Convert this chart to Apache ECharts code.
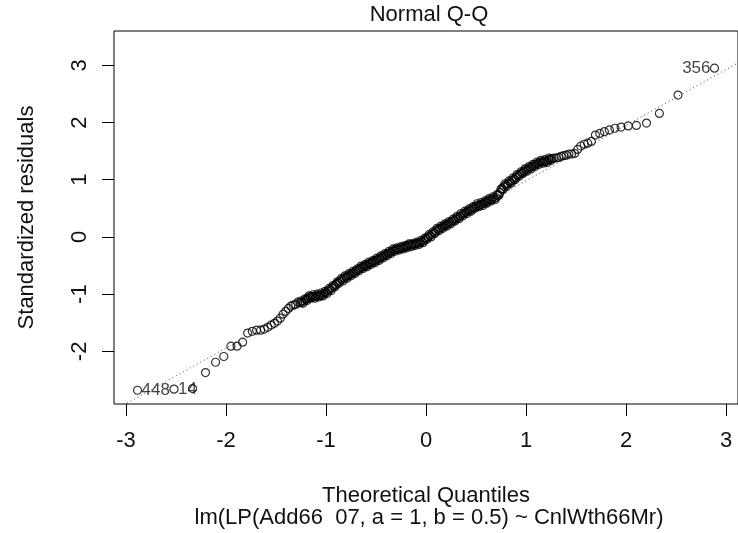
<!DOCTYPE html>
<html>
<head>
<meta charset="utf-8">
<script src="https://cdn.jsdelivr.net/npm/echarts@6/dist/echarts.min.js"></script>
<style>html,body{margin:0;padding:0;background:#fff}#c{width:738px;height:533px}</style>
</head>
<body>
<div id="c"></div>
<script>
// ---- data ----
var xTicks = [-3, -2, -1, 0, 1, 2, 3];
var yTicks = [-2, -1, 0, 1, 2, 3];

// lowest points (theoretical quantile, standardized residual)
var qqLowerTail = [
  [-2.885,-2.68],[-2.52,-2.66],[-2.334,-2.65],[-2.205,-2.37],[-2.104,-2.19],[-2.022,-2.09],
  [-1.951,-1.91],[-1.889,-1.91],[-1.834,-1.84],[-1.784,-1.68],[-1.737,-1.65],[-1.694,-1.63],
  [-1.654,-1.63],[-1.617,-1.61],[-1.582,-1.58],[-1.548,-1.54],[-1.516,-1.51],[-1.486,-1.47],
  [-1.457,-1.42],[-1.429,-1.35],[-1.403,-1.30],[-1.377,-1.25],[-1.352,-1.21],[-1.328,-1.19],
  [-1.304,-1.18],[-1.282,-1.14]
];

// dense central band (centre line)
var qqBody = [
  [-1.26,-1.15],[-1.24,-1.14],[-1.22,-1.12],[-1.20,-1.09],[-1.18,-1.07],[-1.16,-1.05],
  [-1.14,-1.04],[-1.12,-1.04],[-1.10,-1.04],[-1.08,-1.03],[-1.06,-1.02],[-1.04,-1.01],
  [-1.02,-0.99],[-1.00,-0.97],[-0.98,-0.94],[-0.96,-0.92],[-0.94,-0.89],[-0.92,-0.86],
  [-0.90,-0.83],[-0.88,-0.80],[-0.86,-0.77],[-0.84,-0.75],[-0.82,-0.72],[-0.80,-0.70],
  [-0.78,-0.68],[-0.76,-0.66],[-0.74,-0.64],[-0.72,-0.62],[-0.70,-0.60],[-0.68,-0.57],
  [-0.66,-0.55],[-0.64,-0.53],[-0.62,-0.51],[-0.60,-0.50],[-0.58,-0.48],[-0.56,-0.46],
  [-0.54,-0.44],[-0.52,-0.43],[-0.50,-0.41],[-0.48,-0.39],[-0.46,-0.37],[-0.44,-0.35],
  [-0.42,-0.33],[-0.40,-0.31],[-0.38,-0.29],[-0.36,-0.27],[-0.34,-0.25],[-0.32,-0.23],
  [-0.30,-0.22],[-0.28,-0.21],[-0.26,-0.20],[-0.24,-0.19],[-0.22,-0.18],[-0.20,-0.17],
  [-0.18,-0.15],[-0.16,-0.14],[-0.14,-0.14],[-0.12,-0.13],[-0.10,-0.12],[-0.08,-0.11],
  [-0.06,-0.10],[-0.04,-0.08],[-0.02,-0.06],[0.00,-0.03],[0.02,0.00],[0.04,0.02],
  [0.06,0.05],[0.08,0.07],[0.10,0.11],[0.12,0.13],[0.14,0.15],[0.16,0.17],
  [0.18,0.19],[0.20,0.21],[0.22,0.23],[0.24,0.25],[0.26,0.27],[0.28,0.29],
  [0.30,0.32],[0.32,0.34],[0.34,0.36],[0.36,0.39],[0.38,0.41],[0.40,0.43],
  [0.42,0.45],[0.44,0.47],[0.46,0.49],[0.48,0.51],[0.50,0.54],[0.52,0.55],
  [0.54,0.56],[0.56,0.57],[0.58,0.59],[0.60,0.61],[0.62,0.63],[0.64,0.65],
  [0.66,0.66],[0.68,0.67],[0.70,0.69],[0.72,0.73],[0.74,0.78],[0.76,0.84],
  [0.78,0.88],[0.80,0.91],[0.82,0.93],[0.84,0.96],[0.86,0.98],[0.88,1.01],
  [0.90,1.04],[0.92,1.07],[0.94,1.10],[0.96,1.12],[0.98,1.15],[1.00,1.17],
  [1.02,1.19],[1.04,1.21],[1.06,1.23],[1.08,1.25],[1.10,1.27],[1.12,1.29],
  [1.14,1.31],[1.16,1.31],[1.18,1.32],[1.20,1.32],[1.22,1.34],[1.24,1.36],
  [1.26,1.37]
];

// further points inside the central band (its scatter above / below the centre line)
var qqBodyScatter = [
  [-1.25,-1.12],[-1.23,-1.16],[-1.21,-1.08],[-1.19,-1.11],[-1.17,-1.03],[-1.15,-1.07],
  [-1.13,-1.01],[-1.11,-1.07],[-1.09,-1.00],[-1.07,-1.05],[-1.05,-0.98],[-1.03,-1.03],
  [-1.01,-0.95],[-0.99,-0.99],[-0.97,-0.90],[-0.95,-0.94],[-0.93,-0.85],[-0.91,-0.87],
  [-0.89,-0.79],[-0.87,-0.81],[-0.85,-0.73],[-0.83,-0.77],[-0.81,-0.68],[-0.79,-0.72],
  [-0.77,-0.64],[-0.75,-0.68],[-0.73,-0.60],[-0.71,-0.64],[-0.69,-0.56],[-0.67,-0.59],
  [-0.65,-0.51],[-0.63,-0.55],[-0.61,-0.48],[-0.59,-0.52],[-0.57,-0.44],[-0.55,-0.48],
  [-0.53,-0.41],[-0.51,-0.45],[-0.49,-0.37],[-0.47,-0.41],[-0.45,-0.33],[-0.43,-0.37],
  [-0.41,-0.29],[-0.39,-0.33],[-0.37,-0.25],[-0.35,-0.29],[-0.33,-0.21],[-0.31,-0.25],
  [-0.29,-0.19],[-0.27,-0.23],[-0.25,-0.17],[-0.23,-0.21],[-0.21,-0.15],[-0.19,-0.19],
  [-0.17,-0.12],[-0.15,-0.17],[-0.13,-0.11],[-0.11,-0.15],[-0.09,-0.09],[-0.07,-0.13],
  [-0.05,-0.06],[-0.03,-0.10],[-0.01,-0.02],[0.01,-0.04],[0.03,0.04],[0.05,0.00],
  [0.07,0.09],[0.09,0.06],[0.11,0.15],[0.13,0.11],[0.15,0.19],[0.17,0.15],
  [0.19,0.23],[0.21,0.19],[0.23,0.27],[0.25,0.23],[0.27,0.31],[0.29,0.28],
  [0.31,0.36],[0.33,0.32],[0.35,0.41],[0.37,0.37],[0.39,0.45],[0.41,0.41],
  [0.43,0.49],[0.45,0.45],[0.47,0.53],[0.49,0.50],[0.51,0.58],[0.53,0.53],
  [0.55,0.60],[0.57,0.55],[0.59,0.63],[0.61,0.59],[0.63,0.67],[0.65,0.63],
  [0.67,0.70],[0.69,0.65],[0.71,0.74],[0.73,0.73],[0.75,0.84],[0.77,0.83],
  [0.79,0.93],[0.81,0.89],[0.83,0.98],[0.85,0.94],[0.87,1.03],[0.89,1.00],
  [0.91,1.09],[0.93,1.06],[0.95,1.14],[0.97,1.11],[0.99,1.19],[1.01,1.15],
  [1.03,1.23],[1.05,1.19],[1.07,1.27],[1.09,1.23],[1.11,1.31],[1.13,1.27],
  [1.15,1.34],[1.17,1.29],[1.19,1.35],[1.21,1.30],[1.23,1.38],[1.25,1.34]
];

// highest points
var qqUpperTail = [
  [1.282,1.38],[1.304,1.38],[1.328,1.39],[1.352,1.41],[1.377,1.42],[1.403,1.43],
  [1.429,1.45],[1.457,1.45],[1.486,1.46],[1.516,1.53],[1.548,1.59],[1.582,1.62],
  [1.617,1.64],[1.654,1.67],[1.694,1.78],[1.737,1.81],[1.784,1.84],[1.834,1.87],
  [1.889,1.90],[1.951,1.92],[2.022,1.94],[2.104,1.95],[2.205,1.99],[2.334,2.16],
  [2.52,2.48],[2.885,2.95]
];

// identified observations
var idLabels = ['448', '14', '356'];
var idPoints = [[-2.885,-2.68],[-2.52,-2.66],[2.885,2.95]];
var idSides  = ['right', 'right', 'left'];

// reference line end points
var qqLineEnds = [[-3.2,-3.11],[3.2,3.12]];

var titleText = 'Normal Q-Q';
var xName = 'Theoretical Quantiles';
var yName = 'Standardized residuals';
var subText = 'lm(LP(Add66  07, a = 1, b = 0.5) ~ CnlWth66Mr)';

// ---- chart ----
var FONT = 'Liberation Sans, Arial, sans-serif';
var FS = 22;
var TXT = '#111';

var allPoints = qqLowerTail.concat(qqBody, qqBodyScatter, qqUpperTail);
var labelData = idPoints.map(function (p, i) {
  return { value: p, label: { show: true, formatter: idLabels[i], position: idSides[i] } };
});

var chart = echarts.init(document.getElementById('c'), null, { renderer: 'canvas' });
chart.setOption({
  animation: false,
  backgroundColor: '#fff',
  title: [
    { text: titleText, left: 429, top: 4, textAlign: 'center', padding: [0, 0, 0, 0],
      textStyle: { fontFamily: FONT, fontSize: FS, fontWeight: 'normal', color: TXT } },
    { text: subText, left: 429, top: 507, textAlign: 'center', padding: [0, 0, 0, 0],
      textStyle: { fontFamily: FONT, fontSize: FS, fontWeight: 'normal', color: TXT } }
  ],
  grid: { left: 114, top: 31, width: 630, height: 373, show: true,
          borderColor: '#000', borderWidth: 1, backgroundColor: 'transparent' },
  xAxis: {
    type: 'value', min: -3.12, max: 3.12,
    name: xName, nameLocation: 'middle', nameGap: 81,
    nameTextStyle: { fontFamily: FONT, fontSize: FS, color: TXT },
    axisLine: { show: false, onZero: false },
    splitLine: { show: false },
    axisTick: { show: true, length: 12, customValues: xTicks, lineStyle: { color: '#000', width: 1 } },
    axisLabel: { customValues: xTicks, margin: 26, fontFamily: FONT, fontSize: FS, color: TXT }
  },
  yAxis: {
    type: 'value', min: -2.92, max: 3.6,
    name: yName, nameLocation: 'middle', nameGap: 76, nameRotate: 90,
    nameTextStyle: { fontFamily: FONT, fontSize: FS, color: TXT },
    axisLine: { show: false, onZero: false },
    splitLine: { show: false },
    axisTick: { show: true, length: 12, customValues: yTicks, lineStyle: { color: '#000', width: 1 } },
    axisLabel: { customValues: yTicks, rotate: 90, margin: 23, fontFamily: FONT, fontSize: FS, color: TXT }
  },
  series: [
    {
      type: 'line', data: qqLineEnds, showSymbol: false, symbol: 'none', clip: true,
      lineStyle: { color: '#444', width: 1, type: [1, 3] }, silent: true, z: 1
    },
    {
      type: 'scatter', data: allPoints, symbol: 'circle', symbolSize: 8,
      itemStyle: { color: 'rgba(0,0,0,0)', borderColor: '#000', borderWidth: 1.2 },
      silent: true, z: 2
    },
    {
      type: 'scatter', data: labelData, symbolSize: 0, silent: true, z: 3,
      label: { distance: 4, fontFamily: FONT, fontSize: 17, color: TXT }
    }
  ]
});
</script>
</body>
</html>
